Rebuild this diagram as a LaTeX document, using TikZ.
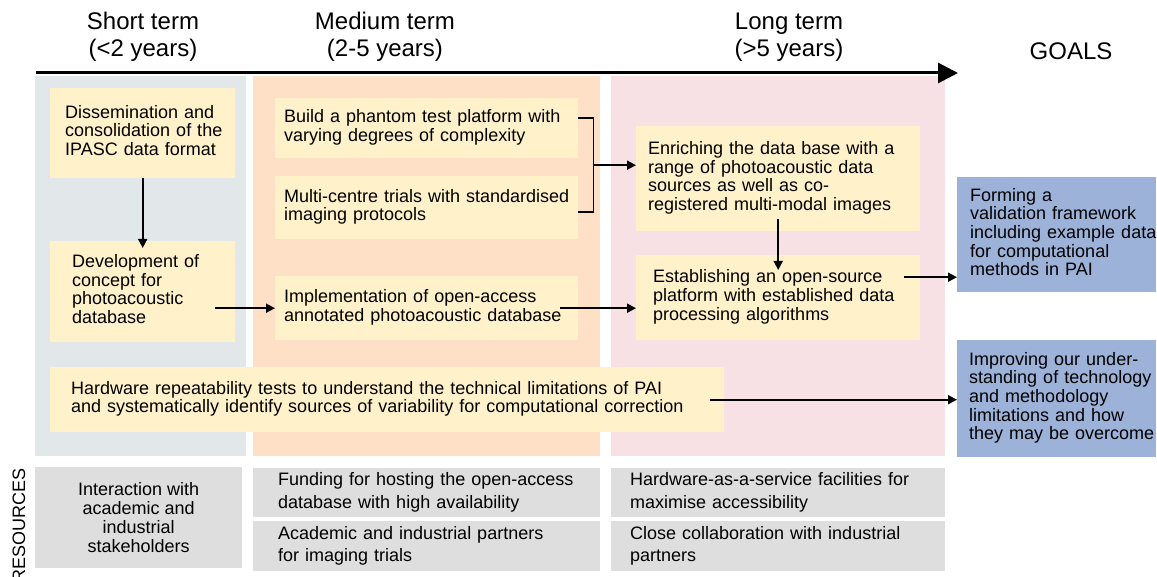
\documentclass[tikz,border=0pt]{standalone}
\usepackage{fontspec}
\setmainfont{Liberation Sans}
\usetikzlibrary{arrows.meta,calc}
\definecolor{colS}{RGB}{226,231,233}
\definecolor{colM}{RGB}{253,224,198}
\definecolor{colL}{RGB}{247,225,229}
\definecolor{ybox}{RGB}{255,241,201}
\definecolor{gbox}{RGB}{157,178,217}
\definecolor{rbox}{RGB}{222,222,222}
\newcommand{\lns}[1]{\begin{tabular}{@{}l@{}}#1\end{tabular}}
\begin{document}
\begin{tikzpicture}[x=1pt,y=-1pt,
 body/.style={font=\fontsize{18}{18.3}\selectfont},
 card/.style={body, anchor=north west, inner ysep=0pt, align=left},
 yel/.style={card, fill=ybox},
 blu/.style={card, fill=gbox},
 res/.style={anchor=north west, inner ysep=0pt, fill=rbox, align=left, font=\fontsize{18}{22.5}\selectfont},
 hdr/.style={font=\fontsize{24}{26.5}\selectfont, align=center},
 col/.style={anchor=north west, inner sep=0pt},
 arr/.style={-{Triangle[length=9pt,width=9pt]}, line width=1.7pt},
 link/.style={line width=1.7pt},
]
\path[use as bounding box] (0,0) rectangle (1157,577);
% column backgrounds
\node[col, fill=colS, minimum width=211pt, minimum height=380pt] (cs) at (35,76) {};
\node[col, fill=colM, minimum width=347pt, minimum height=380pt] (cm) at (253,76) {};
\node[col, fill=colL, minimum width=334pt, minimum height=380pt] (cl) at (611,76) {};
% headers
\node[hdr] (hs) at (143,37) {Short term\\(<2 years)};
\node[hdr] (hm) at (385,37) {Medium term\\(2-5 years)};
\node[hdr] (hl) at (789,37) {Long term\\(>5 years)};
\node[hdr] (goals) at (1071,51) {GOALS};
% timeline
\coordinate (t0) at (36,73);
\coordinate (t1) at (958,73);
\draw[line width=3pt, -{Triangle[length=20pt,width=20pt]}] (t0) -- (t1);
% yellow boxes
\node[yel, minimum width=185pt, minimum height=90pt, text width=155pt, inner xsep=15pt] (dis) at (50,88)
  {\lns{Dissemination and\\consolidation of the\\IPASC data format}};
\node[yel, minimum width=185pt, minimum height=101pt, text width=141pt, inner xsep=22pt] (dev) at (50,241)
  {\lns{Development of\\concept for\\photoacoustic\\database}};
\node[yel, minimum width=303pt, minimum height=60pt, text width=285pt, inner xsep=9pt] (build) at (275,98)
  {\lns{Build a phantom test platform with\\varying degrees of complexity}};
\node[yel, minimum width=303pt, minimum height=63pt, text width=285pt, inner xsep=9pt] (multi) at (275,176)
  {\lns{Multi-centre trials with standardised\\imaging protocols}};
\node[yel, minimum width=303pt, minimum height=64pt, text width=285pt, inner xsep=9pt] (impl) at (275,276)
  {\lns{Implementation of open-access\\annotated photoacoustic database}};
\node[yel, minimum width=284pt, minimum height=105pt, text width=260pt, inner xsep=12pt] (enr) at (636,126)
  {\lns{Enriching the data base with a\\range of photoacoustic data\\sources as well as co-\\registered multi-modal images}};
\node[yel, minimum width=284pt, minimum height=85pt, text width=250pt, inner xsep=17pt] (est) at (636,255)
  {\lns{Establishing an open-source\\platform with established data\\processing algorithms}};
\node[yel, minimum width=674pt, minimum height=65pt, text width=632pt, inner xsep=21pt] (hw) at (50,367)
  {\lns{Hardware repeatability tests to understand the technical limitations of PAI\\and systematically identify sources of variability for computational correction}};
% goals
\node[blu, minimum width=199pt, minimum height=115pt, text width=173pt, inner xsep=13pt] (form) at (957,177)
  {\lns{Forming a\\validation framework\\including example data\\for computational\\methods in PAI}};
\node[blu, minimum width=199pt, minimum height=117pt, text width=175pt, inner xsep=12pt] (impr) at (957,340)
  {\lns{Improving our under-\\standing of technology\\and methodology\\limitations and how\\they may be overcome}};
% resources
\node[res, minimum width=207pt, minimum height=101pt, align=center, font=\fontsize{18}{18.8}\selectfont] (inter) at (35,467)
  {Interaction with\\academic and\\industrial\\stakeholders};
\node[res, minimum width=347pt, minimum height=49pt, text width=297pt, inner xsep=25pt] (fund) at (253,468)
  {\lns{Funding for hosting the open-access\\database with high availability}};
\node[res, minimum width=347pt, minimum height=50pt, text width=297pt, inner xsep=25pt] (acad) at (253,521)
  {\lns{Academic and industrial partners\\for imaging trials}};
\node[res, minimum width=334pt, minimum height=49pt, text width=296pt, inner xsep=19pt] (haas) at (611,468)
  {\lns{Hardware-as-a-service facilities for\\maximise accessibility}};
\node[res, minimum width=334pt, minimum height=50pt, text width=296pt, inner xsep=19pt] (close) at (611,521)
  {\lns{Close collaboration with industrial\\partners}};
\node[rotate=90, font=\fontsize{18}{18}\selectfont, anchor=east] (resl) at (19,465) {RESOURCES};
% connectors
\draw[arr] (dis.south) -- ([yshift=-7pt]dev.north);
\coordinate (d1) at ([xshift=-20pt]dev.east);
\draw[arr] (d1 |- impl.west) -- (impl.west);
\coordinate (b1) at ([yshift=10pt]build.east);
\coordinate (b2) at ([yshift=-4.5pt]multi.east);
\draw[link] (b1) -- ++(15,0) coordinate (bt) |- (b2);
\coordinate (bm) at ($(bt)!0.5!(bt |- b2)$);
\draw[arr] (bm) -- (bm -| enr.west);
\draw[arr] ([yshift=12pt]enr.south) -- ([yshift=-15pt]est.north);
\coordinate (i1) at ([xshift=-18pt]impl.east);
\draw[arr] (i1) -- (i1 -| est.west);
\coordinate (e1) at ([xshift=-16pt,yshift=20.5pt]est.east);
\draw[arr] (e1) -- (e1 -| form.west);
\coordinate (h1) at ([xshift=-14pt]hw.east);
\draw[arr] (h1) -- (h1 -| impr.west);
\end{tikzpicture}
\end{document}
